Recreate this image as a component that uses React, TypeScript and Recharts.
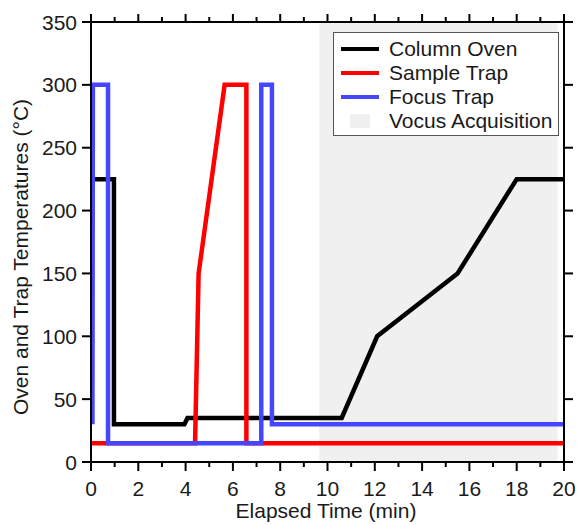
import { LineChart, Line, XAxis, YAxis, ReferenceArea, Legend, Label } from 'recharts'

// time (min) / temperature (°C)
const ovenTime = [0.08, 0.97, 0.97, 3.95, 4.08, 10.6, 12.1, 15.5, 18.0, 20]
const ovenTemp = [225, 225, 30, 30, 35, 35, 100, 150, 225, 225]

const sampleTime = [0, 4.4, 4.55, 5.65, 6.57, 6.57, 20]
const sampleTemp = [15, 15, 150, 300, 300, 15, 15]

const focusTime = [0.06, 0.08, 0.72, 0.72, 7.2, 7.2, 7.65, 7.65, 20]
const focusTemp = [30, 300, 300, 15, 15, 300, 300, 30, 30]

const vocusStart = 9.65
const vocusEnd = 19.73

const xTicks = [0, 1, 2, 3, 4, 5, 6, 7, 8, 9, 10, 11, 12, 13, 14, 15, 16, 17, 18, 19, 20]
const yTicks = [0, 50, 100, 150, 200, 250, 300, 350]

const seriesNames = ['Column Oven', 'Sample Trap', 'Focus Trap']
const seriesColors = ['#000000', '#ff0000', '#4646ff']
const areaName = 'Vocus Acquisition'
const AREA = '#f0f0f0'

const zip = (t: number[], v: number[]) => t.map((x, i) => ({ t: x, v: v[i] }))
const oven = zip(ovenTime, ovenTemp)
const sample = zip(sampleTime, sampleTemp)
const focus = zip(focusTime, focusTemp)
const seriesData = [oven, sample, focus]

const FONT = '"Liberation Sans", Arial, sans-serif'
const INK = '#1a1a1a'
const FS = 21

const BottomTick = (p: any) => {
  const major = p.payload.value % 2 === 0
  return (
    <g>
      <line x1={p.x} x2={p.x} y1={p.y} y2={p.y + (major ? 9 : 5)} stroke="#000" strokeWidth={2} />
      {major && (
        <text x={p.x} y={p.y + 34} textAnchor="middle" fontSize={FS} fontFamily={FONT} fill={INK}>{p.payload.value}</text>
      )}
    </g>
  )
}

const TopTick = (p: any) => {
  const major = p.payload.value % 2 === 0
  return <line x1={p.x} x2={p.x} y1={p.y} y2={p.y - (major ? 8 : 5)} stroke="#000" strokeWidth={2} />
}

const LeftTick = (p: any) => (
  <g>
    <line x1={p.x - 9} x2={p.x} y1={p.y} y2={p.y} stroke="#000" strokeWidth={2} />
    <text x={p.x - 14} y={p.y + 7.5} textAnchor="end" fontSize={FS} fontFamily={FONT} fill={INK}>{p.payload.value}</text>
  </g>
)

const RightTick = (p: any) => (
  <line x1={p.x} x2={p.x + 9} y1={p.y} y2={p.y} stroke="#000" strokeWidth={2} />
)

const LegendBox = () => (
  <div style={{ border: '1px solid #555', background: '#fff', fontFamily: FONT, fontSize: FS, color: INK, padding: '4px 0', boxSizing: 'border-box', width: 226, height: 104, whiteSpace: 'nowrap' }}>
    {seriesNames.map((n, i) => (
      <div key={n} style={{ display: 'flex', alignItems: 'center', height: 24 }}>
        <div style={{ width: 38, height: 4, background: seriesColors[i], marginLeft: 7, marginRight: 10 }} />
        <span>{n}</span>
      </div>
    ))}
    <div style={{ display: 'flex', alignItems: 'center', height: 24 }}>
      <div style={{ width: 20, height: 14, background: AREA, marginLeft: 16, marginRight: 19 }} />
      <span>{areaName}</span>
    </div>
  </div>
)

export default function App() {
  return (
    <div style={{ position: 'absolute', left: 0, top: 0, background: '#fff' }}>
      <LineChart width={582} height={525} margin={{ top: 0, right: 0, bottom: 0, left: 0 }}>
        <XAxis dataKey="t" type="number" domain={[0, 20]} ticks={xTicks} interval={0} allowDataOverflow
          height={63} tickSize={0} tickMargin={0} tickLine={false} tick={BottomTick}
          axisLine={{ stroke: '#000', strokeWidth: 2 }}>
          <Label content={() => (
            <text x={326} y={518} textAnchor="middle" fontSize={FS} fontFamily={FONT} fill={INK}>Elapsed Time (min)</text>
          )} />
        </XAxis>
        <XAxis xAxisId="top" orientation="top" dataKey="t" type="number" domain={[0, 20]} ticks={xTicks} interval={0} allowDataOverflow
          height={22} tickSize={0} tickMargin={0} tickLine={false} tick={TopTick}
          axisLine={{ stroke: '#000', strokeWidth: 2 }} />
        <YAxis type="number" domain={[0, 350]} ticks={yTicks} interval={0} allowDataOverflow
          width={91} tickSize={0} tickMargin={0} tickLine={false} tick={LeftTick}
          axisLine={{ stroke: '#000', strokeWidth: 2 }}>
          <Label content={() => (
            <text x={28} y={257} transform="rotate(-90, 28, 257)" textAnchor="middle" fontSize={FS} fontFamily={FONT} fill={INK}>Oven and Trap Temperatures (°C)</text>
          )} />
        </YAxis>
        <YAxis yAxisId="right" orientation="right" type="number" domain={[0, 350]} ticks={yTicks} interval={0} allowDataOverflow
          width={18} tickSize={0} tickMargin={0} tickLine={false} tick={RightTick}
          axisLine={{ stroke: '#000', strokeWidth: 2 }} />
        <ReferenceArea x1={vocusStart} x2={vocusEnd} y1={0} y2={350} fill={AREA} fillOpacity={1} stroke="none" ifOverflow="hidden" />
        {seriesData.map((d, i) => (
          <Line key={seriesNames[i]} data={d} dataKey="v" name={seriesNames[i]} type="linear"
            stroke={seriesColors[i]} strokeWidth={4.5} dot={false} isAnimationActive={false} />
        ))}
        <Legend layout="vertical" align="center" verticalAlign="middle" content={LegendBox}
          wrapperStyle={{ left: 333, top: 32, width: 226, height: 104 }} />
      </LineChart>
    </div>
  )
}
